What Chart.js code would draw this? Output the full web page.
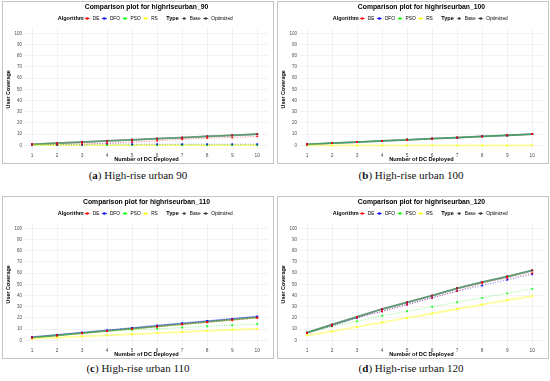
<!DOCTYPE html>
<html>
<head>
<meta charset="utf-8">
<script src="https://cdn.jsdelivr.net/npm/chart.js@4.4.1/dist/chart.umd.min.js"></script>
<style>
  body { margin: 0; width: 550px; height: 381px; background: #fff; position: relative; overflow: hidden; }
  .panel { position: absolute; width: 272px; height: 163px; border: 1px solid #c4c4c4; box-sizing: border-box; background: #fff; }
  .panel canvas { display: block; }
  .cap { position: absolute; width: 272px; text-align: center; font-family: "Liberation Serif", serif; font-size: 11px; color: #111; }
</style>
</head>
<body>
<div class="panel" style="left:2px;top:1px"><canvas id="c90" width="270" height="161"></canvas></div>
<div class="panel" style="left:277px;top:1px"><canvas id="c100" width="270" height="161"></canvas></div>
<div class="panel" style="left:2px;top:196px"><canvas id="c110" width="270" height="161"></canvas></div>
<div class="panel" style="left:277px;top:196px"><canvas id="c120" width="270" height="161"></canvas></div>
<div class="cap" style="left:2px;top:169px">(<b>a</b>) High-rise urban 90</div>
<div class="cap" style="left:275px;top:169px">(<b>b</b>) High-rise urban 100</div>
<div class="cap" style="left:2px;top:362px">(<b>c</b>) High-rise urban 110</div>
<div class="cap" style="left:275px;top:362px">(<b>d</b>) High-rise urban 120</div>
<script>
const dcCount = [1, 2, 3, 4, 5, 6, 7, 8, 9, 10];
const yTicks = [0, 5, 10, 15, 20, 25, 30, 35, 40, 45, 50, 55, 60, 65, 70, 75, 80, 85, 90, 95, 100];
const algorithms = ['DE', 'DFO', 'PSO', 'RS'];
const algoColors = ['255,0,0', '0,0,255', '0,255,0', '255,255,0'];

// highriseurban_90
const hr90DEBase = [1, 1, 1.3, 2, 3, 4, 5.5, 6.5, 7, 8];
const hr90DEOpt = [1, 2, 3, 4, 5, 6, 7, 8, 9, 10];
const hr90DFOBase = [0.6, 0.6, 0.6, 1.5, 1, 1, 1, 1, 1, 1];
const hr90DFOOpt = [1, 2, 3, 4, 5, 6, 7, 8, 9, 10];
const hr90PSOBase = [0.3, 0.3, 0.3, 0.3, 0.3, 0.3, 0.3, 0.3, 0.3, 0.3];
const hr90PSOOpt = [1, 2, 3, 4, 5, 6, 7, 8, 9, 10];
const hr90RS = [0.2, 0.2, 0.2, 0.2, 0.2, 0.2, 0.2, 0.2, 0.2, 0.2];

// highriseurban_100
const hr100DEBase = [1, 2, 3, 4, 5, 6, 7, 8, 9, 10];
const hr100DEOpt = [1, 2, 3, 4, 5, 6, 7, 8, 9, 10];
const hr100DFOBase = [1, 2, 3, 4, 5, 6, 7, 8, 9, 10];
const hr100DFOOpt = [1, 2, 3, 4, 5, 6, 7, 8, 9, 10];
const hr100PSOBase = [1, 2, 3, 4, 5, 6, 7, 8, 9, 10];
const hr100PSOOpt = [1, 2, 3, 4, 5, 6, 7, 8, 9, 10];
const hr100RS = [0, 0, 0, 0, 0, 0, 0, 0, 0, 0];

// highriseurban_110
const hr110DEBase = [2.5, 4.3, 6.3, 8.3, 10.2, 12.2, 14.2, 16.2, 18, 20];
const hr110DEOpt = [2.5, 4.5, 6.5, 8.5, 10.5, 12.5, 14.5, 16.5, 18.5, 20.5];
const hr110DFOBase = [2.8, 4.8, 6.9, 9, 11, 13.1, 15.2, 17.2, 19.2, 21.2];
const hr110DFOOpt = [2.8, 4.8, 6.9, 9, 11, 13.1, 15.2, 17.2, 19.2, 21.2];
const hr110PSOBase = [2.5, 4.3, 6.3, 8.2, 9.5, 10.3, 11.5, 12.6, 13.5, 14.6];
const hr110PSOOpt = [2.5, 4.5, 6.5, 8.5, 10.5, 12.5, 14.5, 16.5, 18.5, 20.5];
const hr110RS = [1.5, 2.5, 3.5, 4.5, 5.5, 6.5, 7.5, 8.5, 9.5, 10.3];

// highriseurban_120
const hr120DEBase = [6.5, 13, 20.5, 26, 32, 38, 44, 51, 55.5, 60];
const hr120DEOpt = [7, 14, 21, 28, 34, 40, 46.5, 52, 57, 62.5];
const hr120DFOBase = [6.5, 13, 20, 26, 32, 38, 44, 49, 54, 59];
const hr120DFOOpt = [7, 14, 21, 28, 34, 40, 46.5, 52, 57, 62.5];
const hr120PSOBase = [7, 12.5, 17, 22, 26, 30, 34, 38, 42, 46];
const hr120PSOOpt = [7, 14, 21, 28, 34, 40, 46.5, 52, 57, 62.5];
const hr120RS = [4.5, 8, 12, 16, 20, 24, 28, 32, 36, 39.5];

const SANS = '"Liberation Sans", Arial, sans-serif';

// lines go underneath, markers are a separate layer on top (like ggplot)
function lineSet(label, values, colorIdx, dotted, order) {
  const c = algoColors[colorIdx];
  return {
    label: label,
    data: values.map((v, i) => ({ x: dcCount[i], y: v })),
    borderColor: 'rgba(' + c + ',' + (dotted ? 0.5 : 0.4) + ')',
    borderWidth: dotted ? 1 : 1.8,
    borderDash: dotted ? [1, 1.6] : [],
    pointRadius: 0,
    order: 100 + order
  };
}
function pointSet(label, values, colorIdx, order) {
  const c = algoColors[colorIdx];
  return {
    label: label,
    data: values.map((v, i) => ({ x: dcCount[i], y: v })),
    showLine: false,
    backgroundColor: 'rgba(' + c + ',0.85)',
    pointRadius: 1.3,
    pointBorderWidth: 0,
    pointStyle: 'rect',
    order: order
  };
}

const headerPlugin = {
  id: 'header',
  afterDraw(chart, args, opts) {
    const ctx = chart.ctx;
    const area = chart.chartArea;
    const cx = (area.left + area.right) / 2;
    ctx.save();
    ctx.fillStyle = '#000';
    ctx.textAlign = 'center';
    ctx.textBaseline = 'middle';
    ctx.font = 'bold 6.8px ' + SANS;
    ctx.fillText(opts.title, cx, 5.5);

    const boldFont = 'bold 5.5px ' + SANS;
    const regFont = '4.8px ' + SANS;
    const parts = [{ head: 'Algorithm', gap: 1 }];
    algorithms.forEach((a, i) => parts.push({ color: 'rgb(' + algoColors[i] + ')', label: a }));
    parts.push({ head: 'Type', gap: 3, pre: 6 });
    parts.push({ color: '#333', dotted: true, label: 'Base' });
    parts.push({ color: '#333', label: 'Optimized' });

    const keyW = 5;
    let total = 0;
    parts.forEach(p => {
      if (p.head) {
        ctx.font = boldFont;
        p.w = (p.pre || 0) + ctx.measureText(p.head).width + p.gap;
      } else {
        ctx.font = regFont;
        p.w = keyW + 3 + ctx.measureText(p.label).width + 2.5;
      }
      total += p.w;
    });
    let x = cx - total / 2;
    const y = 16.5;
    ctx.textAlign = 'left';
    parts.forEach(p => {
      if (p.head) {
        ctx.font = boldFont;
        ctx.fillStyle = '#000';
        ctx.fillText(p.head, x + (p.pre || 0), y);
      } else {
        ctx.strokeStyle = p.color;
        ctx.lineWidth = 0.8;
        ctx.setLineDash(p.dotted ? [0.8, 1] : []);
        ctx.beginPath();
        ctx.moveTo(x, y);
        ctx.lineTo(x + keyW, y);
        ctx.stroke();
        ctx.setLineDash([]);
        ctx.fillStyle = p.color;
        ctx.fillRect(x + keyW / 2 - 1.1, y - 1.1, 2.2, 2.2);
        ctx.font = regFont;
        ctx.fillStyle = '#000';
        ctx.fillText(p.label, x + keyW + 3, y);
      }
      x += p.w;
    });
    ctx.restore();
  }
};

function drawPanel(id, title, s) {
  const datasets = [
    lineSet('RS', s.rs, 3, false, 0),
    lineSet('PSO Optimized', s.psoOpt, 2, false, 1),
    lineSet('PSO Base', s.psoBase, 2, true, 2),
    lineSet('DFO Optimized', s.dfoOpt, 1, false, 3),
    lineSet('DFO Base', s.dfoBase, 1, true, 4),
    lineSet('DE Optimized', s.deOpt, 0, false, 5),
    lineSet('DE Base', s.deBase, 0, true, 6),
    pointSet('DE Optimized', s.deOpt, 0, 0),
    pointSet('DE Base', s.deBase, 0, 1),
    pointSet('DFO Optimized', s.dfoOpt, 1, 2),
    pointSet('DFO Base', s.dfoBase, 1, 3),
    pointSet('PSO Optimized', s.psoOpt, 2, 4),
    pointSet('PSO Base', s.psoBase, 2, 5),
    pointSet('RS', s.rs, 3, 6)
  ];
  new Chart(document.getElementById(id), {
    type: 'line',
    data: { datasets: datasets },
    plugins: [headerPlugin],
    options: {
      responsive: false,
      animation: false,
      devicePixelRatio: 1,
      events: [],
      layout: { padding: { top: 25.7, right: 1, left: 0, bottom: 0 } },
      plugins: {
        legend: { display: false },
        tooltip: { enabled: false },
        header: { title: title }
      },
      scales: {
        x: {
          type: 'linear',
          min: 0.68,
          max: 10.47,
          afterBuildTicks: sc => { sc.ticks = dcCount.map(v => ({ value: v })); },
          afterFit: sc => { sc.height = 12; },
          grid: { color: '#ebebeb', lineWidth: 0.6, drawTicks: false },
          border: { display: false },
          ticks: { color: '#4d4d4d', font: { family: SANS, size: 4.8 }, padding: 1.5, maxRotation: 0 },
          title: { display: true, text: 'Number of DC Deployed', color: '#000', font: { family: SANS, size: 5.6, weight: 'bold' }, padding: { top: 0, bottom: 0 } }
        },
        y: {
          type: 'linear',
          min: -5,
          max: 105,
          afterBuildTicks: sc => { sc.ticks = yTicks.map(v => ({ value: v })); },
          afterFit: sc => { sc.width = 21; },
          grid: { color: '#ebebeb', lineWidth: 0.6, drawTicks: false },
          border: { display: false },
          ticks: { color: '#4d4d4d', font: { family: SANS, size: 4.5 }, padding: 2 },
          title: { display: true, text: 'User Coverage', color: '#000', font: { family: SANS, size: 5.4, weight: 'bold' }, padding: { top: 2, bottom: 0 } }
        }
      }
    }
  });
}

drawPanel('c90', 'Comparison plot for highriseurban_90', {
  deBase: hr90DEBase, deOpt: hr90DEOpt, dfoBase: hr90DFOBase, dfoOpt: hr90DFOOpt,
  psoBase: hr90PSOBase, psoOpt: hr90PSOOpt, rs: hr90RS
});
drawPanel('c100', 'Comparison plot for highriseurban_100', {
  deBase: hr100DEBase, deOpt: hr100DEOpt, dfoBase: hr100DFOBase, dfoOpt: hr100DFOOpt,
  psoBase: hr100PSOBase, psoOpt: hr100PSOOpt, rs: hr100RS
});
drawPanel('c110', 'Comparison plot for highriseurban_110', {
  deBase: hr110DEBase, deOpt: hr110DEOpt, dfoBase: hr110DFOBase, dfoOpt: hr110DFOOpt,
  psoBase: hr110PSOBase, psoOpt: hr110PSOOpt, rs: hr110RS
});
drawPanel('c120', 'Comparison plot for highriseurban_120', {
  deBase: hr120DEBase, deOpt: hr120DEOpt, dfoBase: hr120DFOBase, dfoOpt: hr120DFOOpt,
  psoBase: hr120PSOBase, psoOpt: hr120PSOOpt, rs: hr120RS
});
</script>
</body>
</html>
